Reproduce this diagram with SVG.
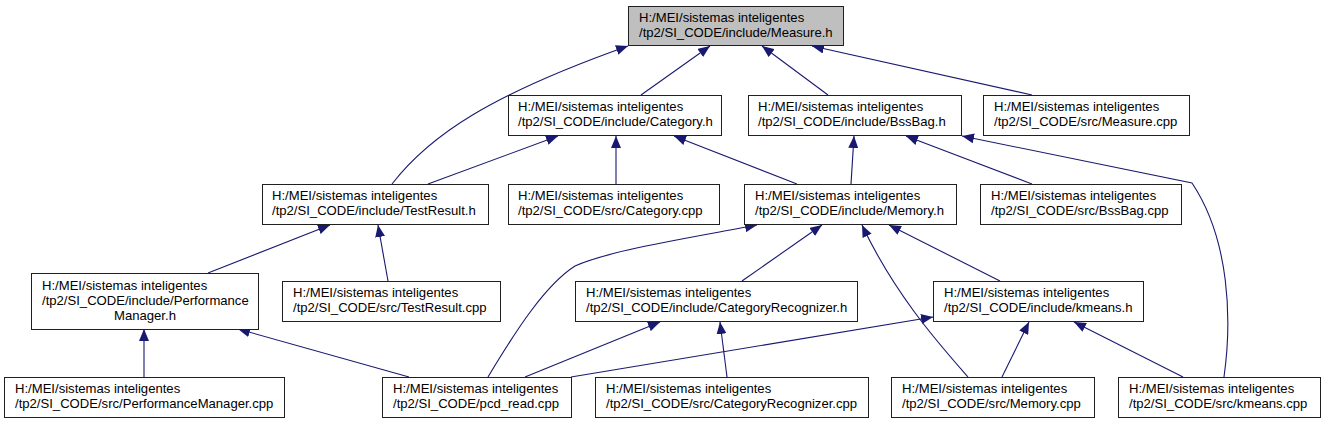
<svg xmlns="http://www.w3.org/2000/svg" width="1325" height="424" viewBox="0 0 1325 424">
<style>
.n rect{fill:#ffffff;stroke:#202020;stroke-width:1}
.n.root rect{fill:#bfbfbf}
.n text{font-family:"Liberation Sans",Arial,sans-serif;font-size:13.1px;fill:#000}
.e path{fill:none;stroke:#191970;stroke-width:1.1;marker-end:url(#ah)}
</style>
<defs>
<marker id="ah" viewBox="0 0 12 10" refX="12" refY="5" markerWidth="12" markerHeight="10" markerUnits="userSpaceOnUse" orient="auto">
<path d="M0,0 L12,5 L0,10 z" fill="#191970"/>
</marker>
</defs>
<rect width="1325" height="424" fill="#ffffff"/>
<g id="edges" class="e">
<path d="M392,184 C430,135 490,95 628,46"/>
<path d="M641,95 L710,46"/>
<path d="M828,95 L762,46"/>
<path d="M1032,95 L812,46"/>
<path d="M428,184 L558,136"/>
<path d="M616,184 L616,136"/>
<path d="M797,184 L674,136"/>
<path d="M851,184 L854,136"/>
<path d="M1032,184 L906,136"/>
<path d="M1224,377 C1232,320 1230,240 1192,183 L962,136"/>
<path d="M208,273 L330,225"/>
<path d="M388,281 L378,225"/>
<path d="M742,281 L822,225"/>
<path d="M488,377 C515,332 545,285 575,266 C610,250 700,236 757,225"/>
<path d="M968,377 C940,345 895,295 862,225"/>
<path d="M1000,281 L889,225"/>
<path d="M144,377 L144,329"/>
<path d="M409,377 L238,329"/>
<path d="M525,377 L660,322"/>
<path d="M571,377 L933,317"/>
<path d="M727,377 L720,322"/>
<path d="M1002,377 L1029,322"/>
<path d="M1183,377 L1074,322"/>
</g>
<g id="measure_h" class="n root"><rect x="628.5" y="6.5" width="215" height="39"/><text x="639" y="22">H:/MEI/sistemas inteligentes</text><text x="639" y="37">/tp2/SI_CODE/include/Measure.h</text></g>
<g id="category_h" class="n"><rect x="508.5" y="95.5" width="213" height="40"/><text x="518" y="111">H:/MEI/sistemas inteligentes</text><text x="518" y="126">/tp2/SI_CODE/include/Category.h</text></g>
<g id="bssbag_h" class="n"><rect x="748.5" y="95.5" width="213" height="40"/><text x="758" y="111">H:/MEI/sistemas inteligentes</text><text x="758" y="126">/tp2/SI_CODE/include/BssBag.h</text></g>
<g id="measure_cpp" class="n"><rect x="983.5" y="95.5" width="206" height="40"/><text x="994" y="111">H:/MEI/sistemas inteligentes</text><text x="994" y="126">/tp2/SI_CODE/src/Measure.cpp</text></g>
<g id="testresult_h" class="n"><rect x="262.5" y="184.5" width="226" height="40"/><text x="272" y="200">H:/MEI/sistemas inteligentes</text><text x="272" y="215">/tp2/SI_CODE/include/TestResult.h</text></g>
<g id="category_cpp" class="n"><rect x="508.5" y="184.5" width="211" height="40"/><text x="518" y="200">H:/MEI/sistemas inteligentes</text><text x="518" y="215">/tp2/SI_CODE/src/Category.cpp</text></g>
<g id="memory_h" class="n"><rect x="744.5" y="184.5" width="212" height="40"/><text x="755" y="200">H:/MEI/sistemas inteligentes</text><text x="755" y="215">/tp2/SI_CODE/include/Memory.h</text></g>
<g id="bssbag_cpp" class="n"><rect x="980.5" y="184.5" width="201" height="40"/><text x="991" y="200">H:/MEI/sistemas inteligentes</text><text x="991" y="215">/tp2/SI_CODE/src/BssBag.cpp</text></g>
<g id="performancemanager_h" class="n"><rect x="31.5" y="273.5" width="227" height="56"/><text x="42" y="290">H:/MEI/sistemas inteligentes</text><text x="42" y="305">/tp2/SI_CODE/include/Performance</text><text x="145" y="320" text-anchor="middle">Manager.h</text></g>
<g id="testresult_cpp" class="n"><rect x="282.5" y="281.5" width="218" height="40"/><text x="293" y="297">H:/MEI/sistemas inteligentes</text><text x="293" y="312">/tp2/SI_CODE/src/TestResult.cpp</text></g>
<g id="categoryrecognizer_h" class="n"><rect x="575.5" y="281.5" width="282" height="40"/><text x="586" y="297">H:/MEI/sistemas inteligentes</text><text x="586" y="312">/tp2/SI_CODE/include/CategoryRecognizer.h</text></g>
<g id="kmeans_h" class="n"><rect x="933.5" y="281.5" width="210" height="40"/><text x="944" y="297">H:/MEI/sistemas inteligentes</text><text x="944" y="312">/tp2/SI_CODE/include/kmeans.h</text></g>
<g id="performancemanager_cpp" class="n"><rect x="4.5" y="377.5" width="280" height="40"/><text x="15" y="393">H:/MEI/sistemas inteligentes</text><text x="15" y="408">/tp2/SI_CODE/src/PerformanceManager.cpp</text></g>
<g id="pcd_read_cpp" class="n"><rect x="382.5" y="377.5" width="189" height="40"/><text x="393" y="393">H:/MEI/sistemas inteligentes</text><text x="393" y="408">/tp2/SI_CODE/pcd_read.cpp</text></g>
<g id="categoryrecognizer_cpp" class="n"><rect x="595.5" y="377.5" width="273" height="40"/><text x="606" y="393">H:/MEI/sistemas inteligentes</text><text x="606" y="408">/tp2/SI_CODE/src/CategoryRecognizer.cpp</text></g>
<g id="memory_cpp" class="n"><rect x="891.5" y="377.5" width="203" height="40"/><text x="902" y="393">H:/MEI/sistemas inteligentes</text><text x="902" y="408">/tp2/SI_CODE/src/Memory.cpp</text></g>
<g id="kmeans_cpp" class="n"><rect x="1118.5" y="377.5" width="202" height="40"/><text x="1129" y="393">H:/MEI/sistemas inteligentes</text><text x="1129" y="408">/tp2/SI_CODE/src/kmeans.cpp</text></g>
</svg>
